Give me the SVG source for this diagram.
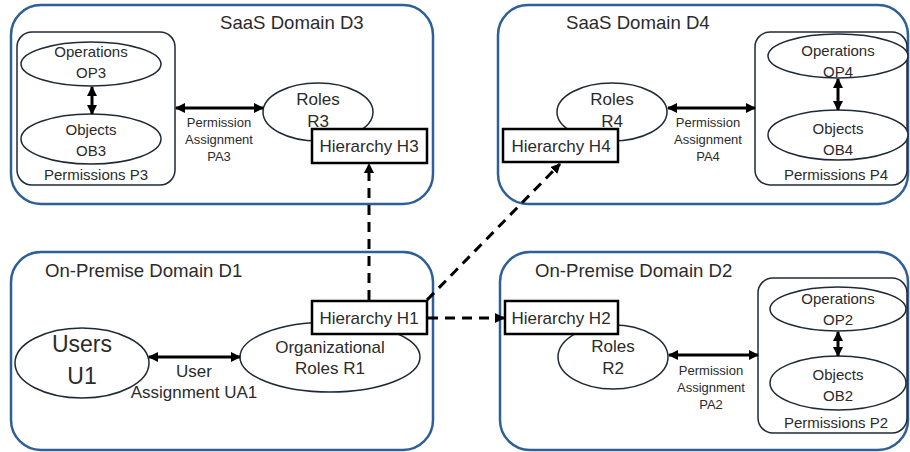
<svg xmlns="http://www.w3.org/2000/svg" width="910" height="452" viewBox="0 0 910 452">
  <defs>
    <marker id="ah" viewBox="0 0 10 10" refX="9" refY="5" markerWidth="10" markerHeight="10" markerUnits="userSpaceOnUse" orient="auto-start-reverse">
      <path d="M0,0 L10,5 L0,10 z" fill="#000"/>
    </marker>
    <style>
      text { font-family: "Liberation Sans", Arial, sans-serif; fill: #2b2b2b; text-anchor: middle; }
      .domain { fill: #fff; stroke: #2e5f99; stroke-width: 2.5; }
      .perm { fill: #fff; stroke: #1f2a36; stroke-width: 1.5; }
      .ell { fill: #fff; stroke: #1f2a36; stroke-width: 1.5; }
      .hier { fill: #fff; stroke: #000; stroke-width: 2.5; }
      .title { font-size: 18.6px; text-anchor: start; }
      .t14 { font-size: 15px; }
      .t12 { font-size: 13px; }
      .t16 { font-size: 17px; }
      .t22 { font-size: 23px; }
      .solid { stroke: #000; stroke-width: 3; fill: none; marker-start: url(#ah); marker-end: url(#ah); }
      .dash { stroke: #000; stroke-width: 3; fill: none; stroke-dasharray: 10 7; marker-end: url(#ah); }
    </style>
  </defs>

  <!-- SaaS Domain D3 -->
  <g id="domain-d3">
    <rect class="domain" x="11" y="5" width="422" height="199" rx="30"/>
    <text class="title" x="220" y="29">SaaS Domain D3</text>
    <g id="permissions-p3">
      <rect class="perm" x="17" y="32" width="158" height="153" rx="15"/>
      <ellipse class="ell" cx="91" cy="64" rx="70" ry="22"/>
      <text class="t14" x="91" y="57">Operations</text>
      <text class="t14" x="91" y="78">OP3</text>
      <ellipse class="ell" cx="91" cy="139" rx="70" ry="25"/>
      <text class="t14" x="91" y="135">Objects</text>
      <text class="t14" x="91" y="156">OB3</text>
      <text class="t14" x="96" y="180">Permissions P3</text>
    </g>
    <g id="roles-r3">
      <ellipse class="ell" cx="318" cy="112" rx="55" ry="29"/>
      <text class="t16" x="318" y="105">Roles</text>
      <text class="t16" x="318" y="127">R3</text>
    </g>
    <g id="hierarchy-h3">
      <rect class="hier" x="312" y="129" width="115" height="34"/>
      <text class="t16" x="369" y="152">Hierarchy H3</text>
    </g>
    <g id="pa3-label">
      <text class="t12" x="219" y="127">Permission</text>
      <text class="t12" x="219" y="144">Assignment</text>
      <text class="t12" x="219" y="161">PA3</text>
    </g>
  </g>

  <!-- SaaS Domain D4 -->
  <g id="domain-d4">
    <rect class="domain" x="498" y="5" width="410" height="199" rx="30"/>
    <text class="title" x="566" y="29">SaaS Domain D4</text>
    <g id="permissions-p4">
      <rect class="perm" x="755" y="32" width="152" height="153" rx="15"/>
      <ellipse class="ell" cx="838" cy="56" rx="70" ry="22"/>
      <text class="t14" x="838" y="56">Operations</text>
      <text class="t14" x="838" y="77">OP4</text>
      <ellipse class="ell" cx="838" cy="135" rx="70" ry="25"/>
      <text class="t14" x="838" y="134">Objects</text>
      <text class="t14" x="838" y="155">OB4</text>
      <text class="t14" x="836" y="180">Permissions P4</text>
    </g>
    <g id="roles-r4">
      <ellipse class="ell" cx="612" cy="112" rx="55" ry="29"/>
      <text class="t16" x="612" y="105">Roles</text>
      <text class="t16" x="612" y="127">R4</text>
    </g>
    <g id="hierarchy-h4">
      <rect class="hier" x="503" y="129" width="115" height="33"/>
      <text class="t16" x="561" y="152">Hierarchy H4</text>
    </g>
    <g id="pa4-label">
      <text class="t12" x="708" y="127">Permission</text>
      <text class="t12" x="708" y="144">Assignment</text>
      <text class="t12" x="708" y="161">PA4</text>
    </g>
  </g>

  <!-- On-Premise Domain D1 -->
  <g id="domain-d1">
    <rect class="domain" x="11" y="252" width="422" height="198" rx="30"/>
    <text class="title" x="45" y="277">On-Premise Domain D1</text>
    <g id="users-u1">
      <ellipse class="ell" cx="82" cy="363" rx="67" ry="35"/>
      <text class="t22" x="82" y="352">Users</text>
      <text class="t22" x="82" y="384">U1</text>
    </g>
    <g id="roles-r1">
      <ellipse class="ell" cx="330" cy="357" rx="90" ry="35"/>
      <text class="t16" x="330" y="353">Organizational</text>
      <text class="t16" x="330" y="374">Roles R1</text>
    </g>
    <g id="hierarchy-h1">
      <rect class="hier" x="312" y="301" width="115" height="33"/>
      <text class="t16" x="369" y="324">Hierarchy H1</text>
    </g>
    <g id="ua1-label">
      <text class="t16" x="194" y="377">User</text>
      <text class="t16" x="194" y="398">Assignment UA1</text>
    </g>
  </g>

  <!-- On-Premise Domain D2 -->
  <g id="domain-d2">
    <rect class="domain" x="500" y="252" width="408" height="198" rx="30"/>
    <text class="title" x="535" y="277">On-Premise Domain D2</text>
    <g id="permissions-p2">
      <rect class="perm" x="758" y="278" width="149" height="155" rx="15"/>
      <ellipse class="ell" cx="838" cy="309" rx="68" ry="22"/>
      <text class="t14" x="838" y="304">Operations</text>
      <text class="t14" x="838" y="325">OP2</text>
      <ellipse class="ell" cx="838" cy="383" rx="68" ry="27"/>
      <text class="t14" x="838" y="380">Objects</text>
      <text class="t14" x="838" y="401">OB2</text>
      <text class="t14" x="836" y="428">Permissions P2</text>
    </g>
    <g id="roles-r2">
      <ellipse class="ell" cx="613" cy="357" rx="55" ry="32"/>
      <text class="t16" x="613" y="352">Roles</text>
      <text class="t16" x="613" y="374">R2</text>
    </g>
    <g id="hierarchy-h2">
      <rect class="hier" x="505" y="301" width="113" height="33"/>
      <text class="t16" x="561" y="324">Hierarchy H2</text>
    </g>
    <g id="pa2-label">
      <text class="t12" x="711" y="375">Permission</text>
      <text class="t12" x="711" y="392">Assignment</text>
      <text class="t12" x="711" y="409">PA2</text>
    </g>
  </g>

  <!-- Connectors -->
  <g id="connectors">
    <line class="solid" x1="92" y1="87" x2="92" y2="114"/>
    <line class="solid" x1="176" y1="108" x2="263" y2="108"/>
    <line class="solid" x1="838" y1="79" x2="838" y2="110"/>
    <line class="solid" x1="668" y1="108" x2="755" y2="108"/>
    <line class="solid" x1="149" y1="357" x2="240" y2="357"/>
    <line class="solid" x1="838" y1="332" x2="838" y2="356"/>
    <line class="solid" x1="669" y1="355" x2="758" y2="355"/>
    <line class="dash" x1="369" y1="300" x2="369" y2="164"/>
    <line class="dash" x1="427" y1="300" x2="560" y2="164"/>
    <line class="dash" x1="428" y1="318" x2="504" y2="318"/>
  </g>
</svg>
